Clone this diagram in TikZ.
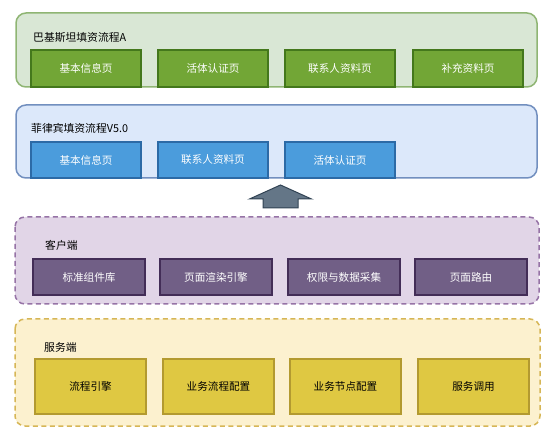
\documentclass[tikz,border=0pt]{standalone}
\usepackage{fontspec}
\newfontfamily\cjk{Noto Sans CJK SC}
\definecolor{greenbg}{HTML}{D9E7D5}
\definecolor{greenline}{HTML}{8FB573}
\definecolor{greenfill}{HTML}{72A636}
\definecolor{greendark}{HTML}{44781C}
\definecolor{bluebg}{HTML}{DCE8FA}
\definecolor{blueline}{HTML}{728FBF}
\definecolor{bluefill}{HTML}{4B9CDC}
\definecolor{bluedark}{HTML}{2C6AA6}
\definecolor{purplebg}{HTML}{E1D5E7}
\definecolor{purpleline}{HTML}{9673A6}
\definecolor{purplefill}{HTML}{715F86}
\definecolor{purpledark}{HTML}{432D57}
\definecolor{yellowbg}{HTML}{FCF1CF}
\definecolor{yellowline}{HTML}{D6B656}
\definecolor{yellowfill}{HTML}{DFC842}
\definecolor{yellowdark}{HTML}{B39A30}
\definecolor{arrowfill}{HTML}{647687}
\definecolor{arrowline}{HTML}{314354}

\begin{document}
\begin{tikzpicture}[x=1pt,y=-1pt,
    layer/.style={rounded corners=10pt,line width=1.5pt},
    dashlayer/.style={layer,dash pattern=on 5pt off 3.5pt},
    page/.style={draw,line width=2pt,minimum width=110pt,minimum height=37pt,
        inner sep=0pt,text=white,font=\cjk\fontsize{10.6}{12}\selectfont},
    title/.style={anchor=west,inner sep=0pt,font=\cjk\fontsize{10.8}{12}\selectfont}]
    \useasboundingbox (0,0) rectangle (557,438);

    \draw[layer,fill=greenbg,draw=greenline] (16,13) rectangle (537,87);
    \node[title] (pkA) at (33,37) {巴基斯坦填资流程A};
    \node[page,fill=greenfill,draw=greendark] (pk1) at (86,68.5) {基本信息页};
    \node[page,fill=greenfill,draw=greendark] (pk2) at (213,68.5) {活体认证页};
    \node[page,fill=greenfill,draw=greendark] (pk3) at (340,68.5) {联系人资料页};
    \node[page,fill=greenfill,draw=greendark] (pk4) at (468,68.5) {补充资料页};

    \draw[layer,fill=bluebg,draw=blueline] (16,105) rectangle (537,178);
    \node[title] (phV) at (31,128) {菲律宾填资流程V5.0};
    \node[page,fill=bluefill,draw=bluedark,minimum height=36pt] (ph1) at (86,160) {基本信息页};
    \node[page,fill=bluefill,draw=bluedark,minimum height=36pt] (ph2) at (213,160) {联系人资料页};
    \node[page,fill=bluefill,draw=bluedark,minimum height=36pt] (ph3) at (340,160) {活体认证页};

    \draw[fill=arrowfill,draw=arrowline,line width=1pt] (280.5,185) -- (311.5,199) -- (298,199) -- (298,208) -- (263,208) -- (263,199) -- (249.5,199) -- cycle;

    \draw[dashlayer,fill=purplebg,draw=purpleline] (15,217) rectangle (539,304);
    \node[title] (client) at (45,245) {客户端};
    \node[page,fill=purplefill,draw=purpledark,minimum width=112pt,minimum height=36pt] (cl1) at (89,277) {标准组件库};
    \node[page,fill=purplefill,draw=purpledark,minimum width=112pt,minimum height=36pt] (cl2) at (216,277) {页面渲染引擎};
    \node[page,fill=purplefill,draw=purpledark,minimum width=112pt,minimum height=36pt] (cl3) at (344,277) {权限与数据采集};
    \node[page,fill=purplefill,draw=purpledark,minimum width=112pt,minimum height=36pt] (cl4) at (471,277) {页面路由};

    \draw[dashlayer,fill=yellowbg,draw=yellowline] (15,319) rectangle (540,426);
    \node[title] (server) at (44,347) {服务端};
    \node[page,fill=yellowfill,draw=yellowdark,text=black,minimum width=111pt,minimum height=55pt] (sv1) at (90.5,386.5) {流程引擎};
    \node[page,fill=yellowfill,draw=yellowdark,text=black,minimum width=111pt,minimum height=55pt] (sv2) at (218.5,386.5) {业务流程配置};
    \node[page,fill=yellowfill,draw=yellowdark,text=black,minimum width=111pt,minimum height=55pt] (sv3) at (345.5,386.5) {业务节点配置};
    \node[page,fill=yellowfill,draw=yellowdark,text=black,minimum width=111pt,minimum height=55pt] (sv4) at (473.5,386.5) {服务调用};
\end{tikzpicture}
\end{document}
